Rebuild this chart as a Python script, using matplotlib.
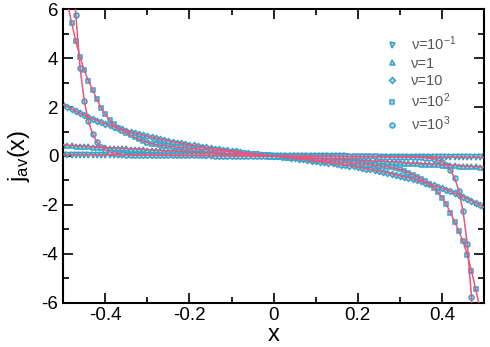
import numpy as np
import matplotlib
matplotlib.use('Agg')
import matplotlib.pyplot as plt
from matplotlib.ticker import MultipleLocator

plt.rcParams['font.family'] = ['Liberation Sans', 'DejaVu Sans']
plt.rcParams['mathtext.fontset'] = 'custom'
plt.rcParams['mathtext.rm'] = 'Liberation Sans'
plt.rcParams['mathtext.it'] = 'Liberation Sans:italic'
plt.rcParams['axes.unicode_minus'] = False

# x grid, step 0.01 from -0.5 to 0.5
x = np.round(np.linspace(-0.5, 0.5, 101), 2)

# values (left half x=-0.50..0.00, right half x=0.01..0.50)
j_nu01 = [0.060, 0.059, 0.058, 0.056, 0.055, 0.054, 0.053, 0.052, 0.050, 0.049,
          0.048, 0.047, 0.046, 0.044, 0.043, 0.042, 0.041, 0.040, 0.038, 0.037,
          0.036, 0.035, 0.034, 0.032, 0.031, 0.030, 0.029, 0.028, 0.026, 0.025,
          0.024, 0.023, 0.022, 0.020, 0.019, 0.018, 0.017, 0.016, 0.014, 0.013,
          0.012, 0.011, 0.010, 0.008, 0.007, 0.006, 0.005, 0.004, 0.002, 0.001,
          0.000,
          -0.001, -0.002, -0.004, -0.005, -0.006, -0.007, -0.008, -0.010, -0.011, -0.012,
          -0.013, -0.014, -0.016, -0.017, -0.018, -0.019, -0.020, -0.022, -0.023, -0.024,
          -0.025, -0.026, -0.028, -0.029, -0.030, -0.031, -0.032, -0.034, -0.035, -0.036,
          -0.037, -0.038, -0.040, -0.041, -0.042, -0.043, -0.044, -0.046, -0.047, -0.048,
          -0.049, -0.050, -0.052, -0.053, -0.054, -0.055, -0.056, -0.058, -0.059, -0.060]

j_nu1 = [0.45, 0.44, 0.43, 0.42, 0.41, 0.40, 0.39, 0.38, 0.37, 0.36,
         0.35, 0.34, 0.33, 0.32, 0.32, 0.31, 0.30, 0.29, 0.28, 0.27,
         0.26, 0.25, 0.24, 0.23, 0.22, 0.22, 0.21, 0.20, 0.19, 0.18,
         0.17, 0.16, 0.15, 0.15, 0.14, 0.13, 0.12, 0.11, 0.10, 0.09,
         0.09, 0.08, 0.07, 0.06, 0.05, 0.04, 0.03, 0.03, 0.02, 0.01,
         0.00,
         -0.01, -0.02, -0.03, -0.03, -0.04, -0.05, -0.06, -0.07, -0.08, -0.09,
         -0.09, -0.10, -0.11, -0.12, -0.13, -0.14, -0.15, -0.15, -0.16, -0.17,
         -0.18, -0.19, -0.20, -0.21, -0.22, -0.22, -0.23, -0.24, -0.25, -0.26,
         -0.27, -0.28, -0.29, -0.30, -0.31, -0.32, -0.32, -0.33, -0.34, -0.35,
         -0.36, -0.37, -0.38, -0.39, -0.40, -0.41, -0.42, -0.43, -0.44, -0.45]

j_nu10 = [2.10, 2.01, 1.92, 1.83, 1.75, 1.67, 1.59, 1.52, 1.45, 1.38,
          1.32, 1.26, 1.20, 1.14, 1.09, 1.04, 0.99, 0.94, 0.89, 0.85,
          0.81, 0.77, 0.73, 0.69, 0.65, 0.62, 0.58, 0.55, 0.52, 0.49,
          0.46, 0.43, 0.40, 0.38, 0.35, 0.33, 0.30, 0.28, 0.25, 0.23,
          0.21, 0.19, 0.16, 0.14, 0.12, 0.10, 0.08, 0.06, 0.04, 0.02,
          0.00,
          -0.02, -0.04, -0.06, -0.08, -0.10, -0.12, -0.14, -0.16, -0.19, -0.21,
          -0.23, -0.25, -0.28, -0.30, -0.33, -0.35, -0.38, -0.40, -0.43, -0.46,
          -0.49, -0.52, -0.55, -0.58, -0.62, -0.65, -0.69, -0.73, -0.77, -0.81,
          -0.85, -0.89, -0.94, -0.99, -1.04, -1.09, -1.14, -1.20, -1.26, -1.32,
          -1.38, -1.45, -1.52, -1.59, -1.67, -1.75, -1.83, -1.92, -2.01, -2.10]

j_nu100 = [7.10, 6.25, 5.45, 4.70, 4.05, 3.50, 3.08, 2.70, 2.32, 1.97,
           1.70, 1.49, 1.30, 1.16, 1.04, 0.94, 0.85, 0.76, 0.68, 0.61,
           0.55, 0.50, 0.47, 0.44, 0.42, 0.40, 0.38, 0.36, 0.35, 0.33,
           0.32, 0.30, 0.29, 0.27, 0.26, 0.24, 0.23, 0.21, 0.20, 0.18,
           0.17, 0.15, 0.13, 0.12, 0.10, 0.08, 0.07, 0.05, 0.03, 0.02,
           0.00,
           -0.02, -0.03, -0.05, -0.07, -0.08, -0.10, -0.12, -0.13, -0.15, -0.17,
           -0.18, -0.20, -0.21, -0.23, -0.24, -0.26, -0.27, -0.29, -0.30, -0.32,
           -0.33, -0.35, -0.36, -0.38, -0.40, -0.42, -0.44, -0.47, -0.50, -0.55,
           -0.61, -0.68, -0.76, -0.85, -0.94, -1.04, -1.16, -1.30, -1.49, -1.70,
           -1.97, -2.32, -2.70, -3.08, -3.50, -4.05, -4.70, -5.45, -6.25, -7.10]

j_nu1000 = [23.9, 14.85, 9.26, 5.77, 3.60, 2.26, 1.42, 0.90, 0.57, 0.37,
            0.24, 0.17, 0.12, 0.09, 0.07, 0.05, 0.05, 0.04, 0.04, 0.03,
            0.03, 0.03, 0.03, 0.03, 0.03, 0.03, 0.02, 0.02, 0.02, 0.02,
            0.02, 0.02, 0.02, 0.02, 0.02, 0.02, 0.01, 0.01, 0.01, 0.01,
            0.01, 0.01, 0.01, 0.01, 0.01, 0.01, 0.00, 0.00, 0.00, 0.00,
            0.00,
            0.00, 0.00, 0.00, 0.00, -0.01, -0.01, -0.01, -0.01, -0.01, -0.01,
            -0.01, -0.01, -0.01, -0.01, -0.02, -0.02, -0.02, -0.02, -0.02, -0.02,
            -0.02, -0.02, -0.02, -0.02, -0.03, -0.03, -0.03, -0.03, -0.03, -0.03,
            -0.03, -0.04, -0.04, -0.05, -0.05, -0.07, -0.09, -0.12, -0.17, -0.24,
            -0.37, -0.57, -0.90, -1.42, -2.26, -3.60, -5.77, -9.26, -14.85, -23.9]

series = [j_nu01, j_nu1, j_nu10, j_nu100, j_nu1000]
labels = ['ν=10$^{-1}$', 'ν=1', 'ν=10', 'ν=10$^{2}$', 'ν=10$^{3}$']
markers = ['v', '^', 'D', 's', 'o']
msizes = [3.6, 3.6, 3.0, 3.4, 3.6]

blue = '#3aa2c9'
light = '#a9dcec'
red = '#e9567b'

fig = plt.figure(figsize=(4.9, 3.47), dpi=100)
ax = fig.add_axes([0.129, 0.128, 0.859, 0.845])

# symbols first, red curves on top
for j, lab, m, s in zip(series, labels, markers, msizes):
    ax.plot(x, j, linestyle='none', marker=m, ms=s, mfc=light, mec=blue,
            mew=1.1, label=lab, zorder=2)
for j in series:
    ax.plot(x, j, color=red, lw=1.1, zorder=3)

ax.set_xlim(-0.5, 0.5)
ax.set_ylim(-6, 6)
ax.xaxis.set_major_locator(MultipleLocator(0.2))
ax.xaxis.set_minor_locator(MultipleLocator(0.1))
ax.yaxis.set_major_locator(MultipleLocator(2))
ax.yaxis.set_minor_locator(MultipleLocator(1))
ax.xaxis.set_major_formatter(plt.FuncFormatter(lambda v, p: '0' if abs(v) < 1e-9 else '%g' % v))
ax.tick_params(which='both', direction='in', top=True, right=True, width=1.2,
               labelsize=13.5)
ax.tick_params(which='major', length=7)
ax.tick_params(which='minor', length=4)
for sp in ax.spines.values():
    sp.set_linewidth(1.5)

ax.set_xlabel('x', fontsize=17, labelpad=0)
ax.set_ylabel('j$_{\\mathrm{av}}$(x)', fontsize=17, labelpad=7)

leg = ax.legend(loc='upper left', bbox_to_anchor=(0.764, 0.915), frameon=False,
                fontsize=10.5, handlelength=1.0, handletextpad=0.8,
                labelspacing=0.25, borderpad=0, borderaxespad=0)
for t in leg.get_texts():
    t.set_color('#555555')

fig.savefig('out.png', dpi=100)
